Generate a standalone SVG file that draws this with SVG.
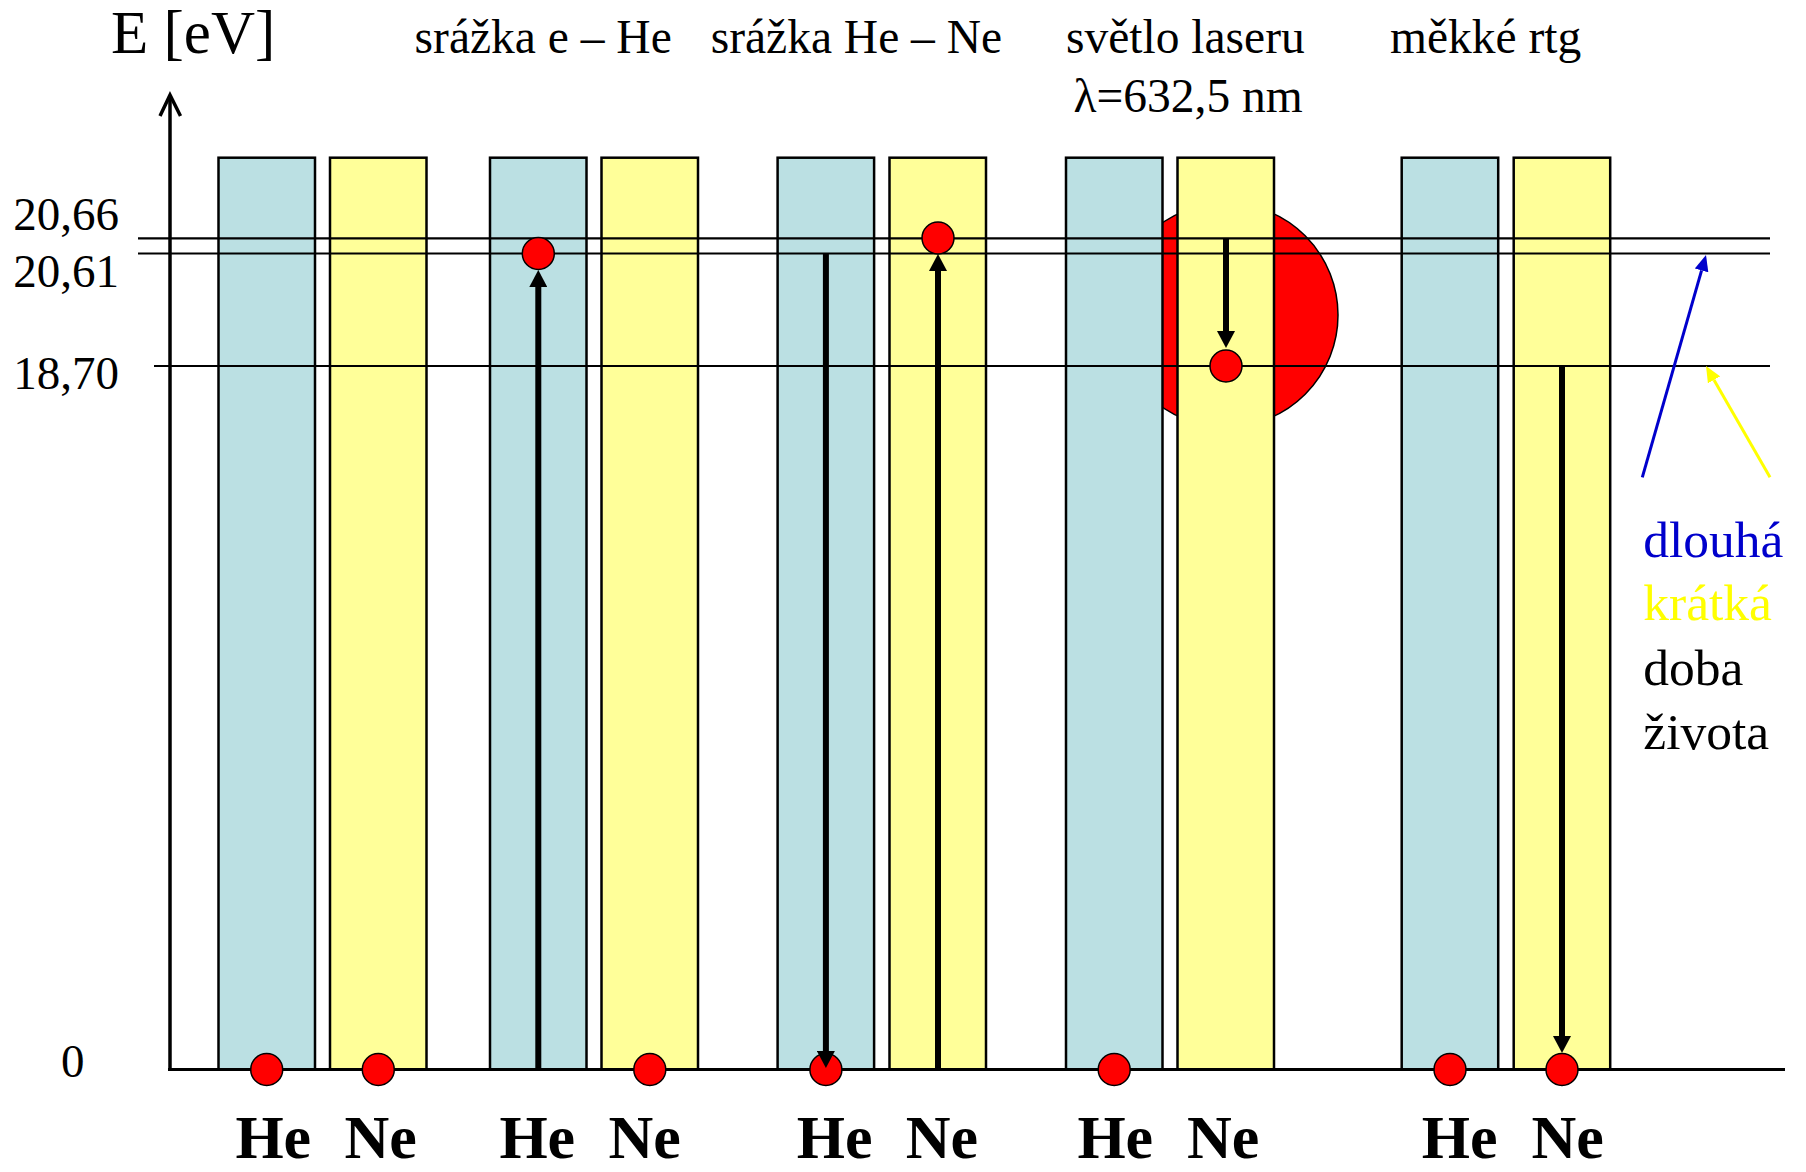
<svg xmlns="http://www.w3.org/2000/svg" width="1806" height="1172" viewBox="0 0 1806 1172">
<style>
.he{fill:#BBE0E3;stroke:#000;stroke-width:2.5}
.ne{fill:#FFFF99;stroke:#000;stroke-width:2.5}
.lvl{stroke:#000;stroke-width:2.2;fill:none}
.dot{fill:#FF0000;stroke:#000;stroke-width:1.5}
.t{font-family:"Liberation Serif","Times New Roman","DejaVu Serif",serif;fill:#000}
.title{font-size:47.5px}
.ax{font-size:47px}
.lab{font-size:62px;font-weight:bold}
.leg{font-size:51.5px}
.arr{stroke:#000;stroke-width:6;fill:none;marker-end:url(#ah)}
</style>
<defs>
<marker id="ah" viewBox="0 0 17 18" refX="0" refY="9" markerWidth="17" markerHeight="18" markerUnits="userSpaceOnUse" orient="auto"><path d="M0,0 L17,9 L0,18 z" fill="#000"/></marker>
<marker id="ahb" viewBox="0 0 16 14" refX="0" refY="7" markerWidth="16" markerHeight="14" markerUnits="userSpaceOnUse" orient="auto"><path d="M0,0 L16,7 L0,14 z" fill="#0000CC"/></marker>
<marker id="ahy" viewBox="0 0 16 14" refX="0" refY="7" markerWidth="16" markerHeight="14" markerUnits="userSpaceOnUse" orient="auto"><path d="M0,0 L16,7 L0,14 z" fill="#FFFF00"/></marker>
</defs>
<rect width="1806" height="1172" fill="#fff"/>
<circle id="laser-light" cx="1226" cy="315" r="112" fill="#FF0000" stroke="#000" stroke-width="1.5"/>
<g id="pair1"><rect class="he" x="218.5" y="157.7" width="96.5" height="911.8"/><rect class="ne" x="330" y="157.7" width="96.5" height="911.8"/></g>
<g id="pair2"><rect class="he" x="490" y="157.7" width="96.5" height="911.8"/><rect class="ne" x="601.5" y="157.7" width="96.5" height="911.8"/></g>
<g id="pair3"><rect class="he" x="777.6" y="157.7" width="96.5" height="911.8"/><rect class="ne" x="889.5" y="157.7" width="96.5" height="911.8"/></g>
<g id="pair4"><rect class="he" x="1066" y="157.7" width="96.5" height="911.8"/><rect class="ne" x="1177.5" y="157.7" width="96.5" height="911.8"/></g>
<g id="pair5"><rect class="he" x="1401.7" y="157.7" width="96.5" height="911.8"/><rect class="ne" x="1513.7" y="157.7" width="96.5" height="911.8"/></g>
<g id="levels">
<line class="lvl" x1="138" y1="238.4" x2="1770" y2="238.4"/>
<line class="lvl" x1="138" y1="253.5" x2="1770" y2="253.5"/>
<line class="lvl" x1="154" y1="366" x2="1770" y2="366"/>
</g>
<g id="axes">
<line x1="170" y1="1069.5" x2="170" y2="96" stroke="#000" stroke-width="3.5"/>
<polyline points="160,116 170,95 180.5,116" fill="none" stroke="#000" stroke-width="3.5"/>
<line x1="168" y1="1069.5" x2="1785" y2="1069.5" stroke="#000" stroke-width="3"/>
</g>
<g id="dots">
<circle class="dot" cx="266.7" cy="1069.5" r="16"/>
<circle class="dot" cx="378.3" cy="1069.5" r="16"/>
<circle class="dot" cx="538.3" cy="253.5" r="16"/>
<circle class="dot" cx="649.8" cy="1069.5" r="16"/>
<circle class="dot" cx="825.9" cy="1069.5" r="16"/>
<circle class="dot" cx="938" cy="238" r="16"/>
<circle class="dot" cx="1114.2" cy="1069.5" r="16"/>
<circle class="dot" cx="1226" cy="366" r="16"/>
<circle class="dot" cx="1450" cy="1069.5" r="16"/>
<circle class="dot" cx="1562" cy="1069.5" r="16"/>
</g>
<g id="connectors">
<line class="arr" x1="538.3" y1="1069.5" x2="538.3" y2="287"/>
<line class="arr" x1="825.9" y1="253.5" x2="825.9" y2="1051"/>
<line class="arr" x1="938" y1="1069.5" x2="938" y2="271"/>
<line class="arr" x1="1226" y1="238.4" x2="1226" y2="331"/>
<line class="arr" x1="1562" y1="366" x2="1562" y2="1036"/>
<line x1="1642.3" y1="477.3" x2="1701.6" y2="270.4" stroke="#0000CC" stroke-width="3" marker-end="url(#ahb)"/>
<line x1="1770" y1="477.3" x2="1714" y2="379.9" stroke="#FFFF00" stroke-width="3" marker-end="url(#ahy)"/>
</g>
<g id="texts">
<text class="t" x="111" y="53" font-size="61">E [eV]</text>
<text class="t title" x="414.6" y="53.3">srážka e – He</text>
<text class="t title" x="710.7" y="53.3">srážka He – Ne</text>
<text class="t title" x="1066" y="53.3">světlo laseru</text>
<text class="t title" x="1073.5" y="111.7">λ=632,5 nm</text>
<text class="t title" x="1390" y="53.3">měkké rtg</text>
<text class="t ax" x="119" y="230" text-anchor="end">20,66</text>
<text class="t ax" x="119" y="287.3" text-anchor="end">20,61</text>
<text class="t ax" x="119" y="389.3" text-anchor="end">18,70</text>
<text class="t ax" x="61" y="1077">0</text>
<text class="t lab" x="235.4" y="1158">He</text>
<text class="t lab" x="344.4" y="1158">Ne</text>
<text class="t lab" x="499.4" y="1158">He</text>
<text class="t lab" x="608.5" y="1158">Ne</text>
<text class="t lab" x="796.8" y="1158">He</text>
<text class="t lab" x="905.8" y="1158">Ne</text>
<text class="t lab" x="1077.4" y="1158">He</text>
<text class="t lab" x="1187" y="1158">Ne</text>
<text class="t lab" x="1421.7" y="1158">He</text>
<text class="t lab" x="1531.4" y="1158">Ne</text>
<text class="t leg" x="1643.3" y="556.7" style="fill:#0000CC">dlouhá</text>
<text class="t leg" x="1643.3" y="620" style="fill:#FFFF00">krátká</text>
<text class="t leg" x="1643.3" y="685">doba</text>
<text class="t leg" x="1643.3" y="749.3">života</text>
</g>
</svg>
